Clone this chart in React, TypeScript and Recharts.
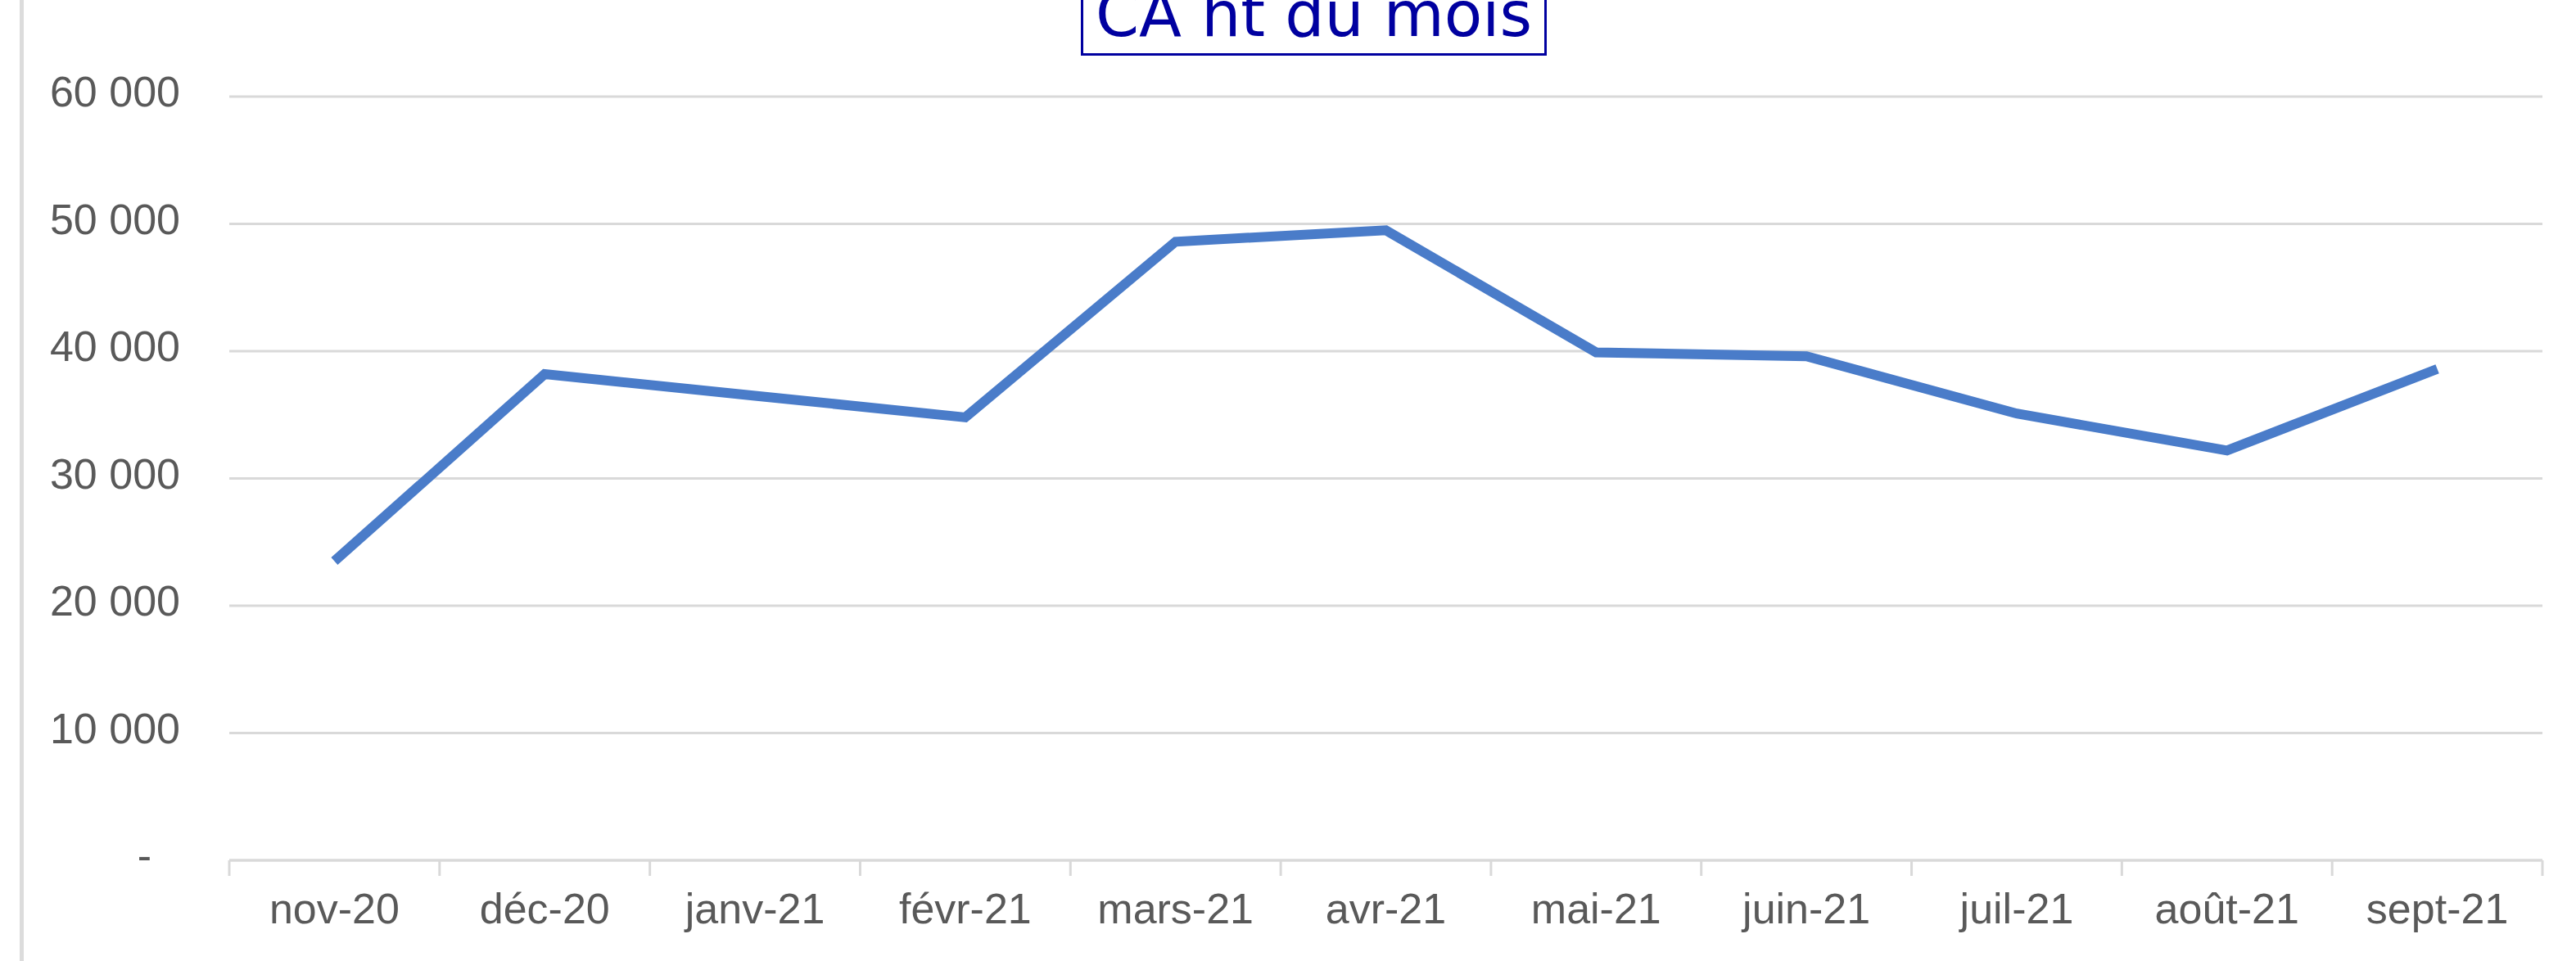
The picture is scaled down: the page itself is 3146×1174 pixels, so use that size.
import React from 'react'
import { LineChart, Line, XAxis, YAxis, CartesianGrid } from 'recharts'

const months = ['nov-20', 'déc-20', 'janv-21', 'févr-21', 'mars-21', 'avr-21', 'mai-21', 'juin-21', 'juil-21', 'août-21', 'sept-21']
const caHt = [23500, 38200, 36500, 34800, 48600, 49500, 39900, 39600, 35100, 32200, 38600]
const yTicks = [0, 10000, 20000, 30000, 40000, 50000, 60000]

const chartData = months.map((month, i) => ({ month, ca: caHt[i] }))

const AXIS_FONT = '"Liberation Sans", Arial, sans-serif'
const GREY = '#d9d9d9'
const LABEL_GAP = 40

const formatK = (v: number) => String(v).replace(/\B(?=(\d{3})+(?!\d))/g, ' ')

const YTick = ({ x, y, payload }: { x?: number; y?: number; payload?: { value: number } }) => {
  const value = payload ? payload.value : 0
  const zero = value === 0
  return (
    <text
      x={x}
      y={y}
      dx={zero ? -35 : 0}
      dy={12}
      textAnchor="end"
      fill="#595959"
      fontSize={52}
      fontFamily={AXIS_FONT}
    >
      {zero ? '-' : formatK(value)}
    </text>
  )
}

// month label + Excel-like tick marks between categories
const XTick = (props: any) => {
  const { x, y, payload, index, width, visibleTicksCount } = props
  const band = Number(width) / visibleTicksCount
  const axisY = y - LABEL_GAP
  const last = index === visibleTicksCount - 1
  return (
    <g>
      <line x1={x - band / 2} x2={x - band / 2} y1={axisY} y2={axisY + 19} stroke={GREY} strokeWidth={3} />
      {last && (
        <line x1={x + band / 2} x2={x + band / 2} y1={axisY} y2={axisY + 19} stroke={GREY} strokeWidth={3} />
      )}
      <text x={x} y={y} dy={37} textAnchor="middle" fill="#595959" fontSize={52} fontFamily={AXIS_FONT}>
        {payload.value}
      </text>
    </g>
  )
}

const App = () => {
  return (
    <div style={{ position: 'absolute', left: 0, top: 0, width: 3146, height: 1174, background: '#fff', overflow: 'hidden' }}>
      <div style={{ position: 'absolute', left: 24, top: 0, width: 5, height: 1174, background: '#dcdcdc' }} />
      <LineChart
        width={3146}
        height={1174}
        data={chartData}
        margin={{ top: 118, right: 41, bottom: 23, left: 30 }}
      >
        <CartesianGrid vertical={false} stroke={GREY} strokeWidth={3} />
        <XAxis
          dataKey="month"
          scale="band"
          interval={0}
          axisLine={{ stroke: GREY, strokeWidth: 3 }}
          tickLine={false}
          tickSize={0}
          tickMargin={LABEL_GAP}
          height={100}
          tick={<XTick />}
        />
        <YAxis
          domain={[0, 60000]}
          ticks={yTicks}
          interval={0}
          width={250}
          axisLine={false}
          tickLine={false}
          tickSize={0}
          tickMargin={60}
          tick={<YTick />}
        />
        <Line
          type="linear"
          dataKey="ca"
          stroke="#4a7cc9"
          strokeWidth={12}
          dot={false}
          isAnimationActive={false}
        />
      </LineChart>
      <div
        style={{
          position: 'absolute',
          left: 1320,
          top: -30,
          width: 569,
          height: 98,
          boxSizing: 'border-box',
          border: '3px solid #0000a0',
          color: '#0000a0',
          fontFamily: '"DejaVu Sans", sans-serif',
          fontSize: 76,
          lineHeight: '90px',
          textAlign: 'center',
          whiteSpace: 'nowrap',
        }}
      >
        CA ht du mois
      </div>
    </div>
  )
}

export default App
